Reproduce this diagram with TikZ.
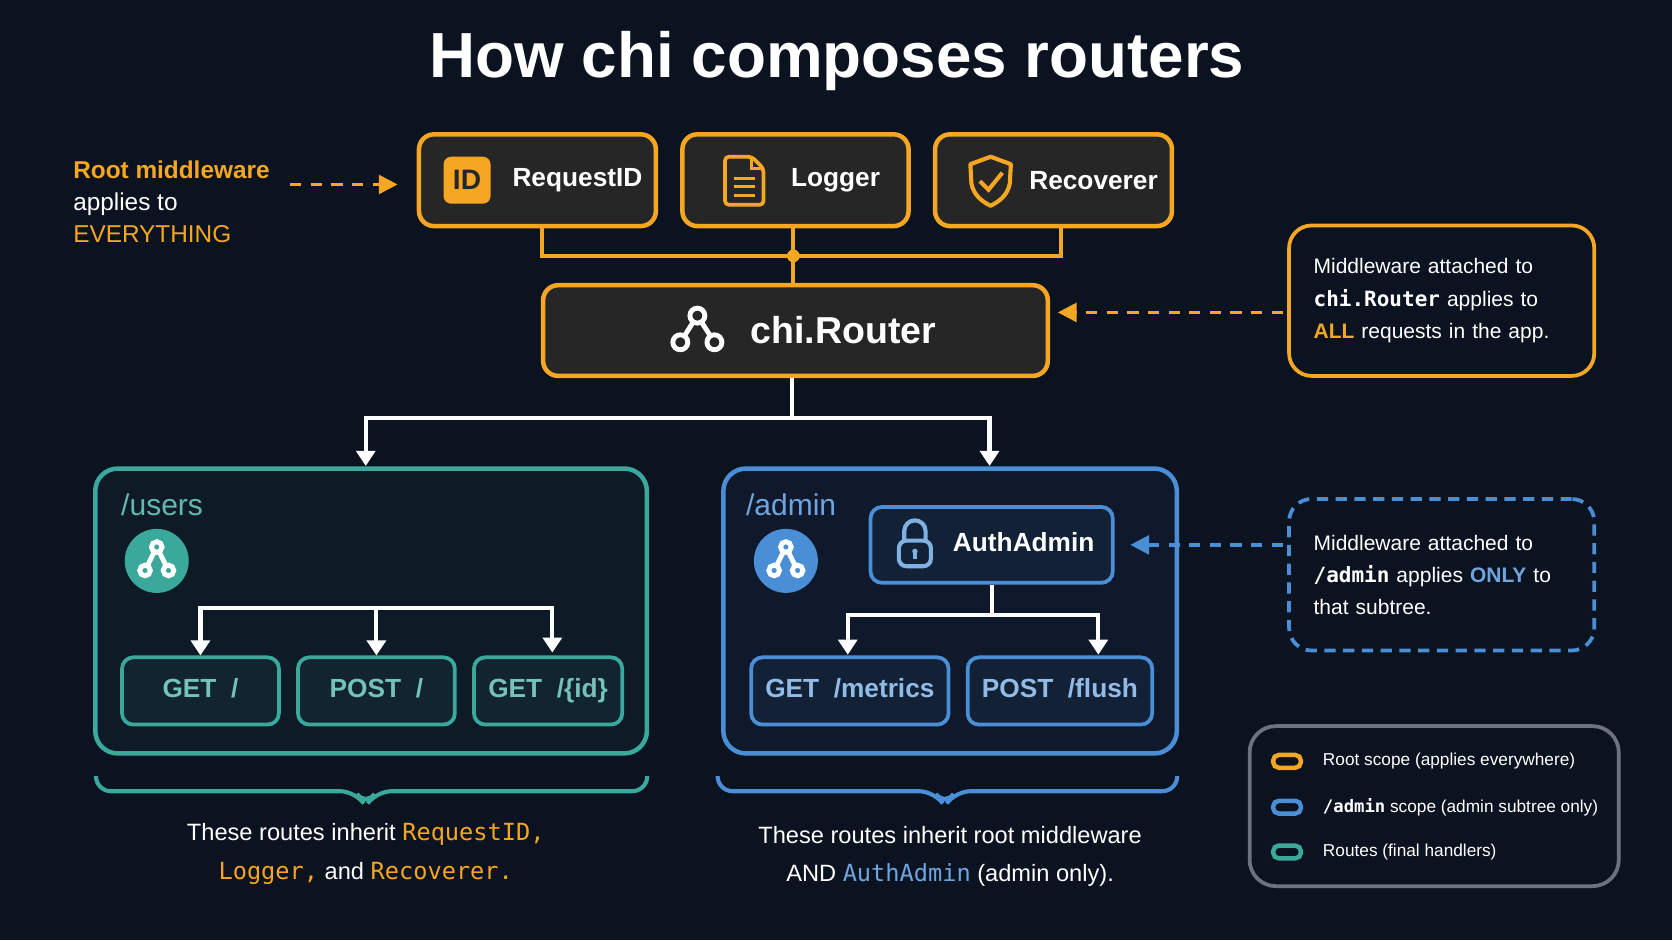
\documentclass[tikz,border=0pt]{standalone}
\usepackage{fontspec}
\setmainfont{Liberation Sans}
\setmonofont{DejaVu Sans Mono}
\usetikzlibrary{positioning,arrows.meta,calc}
\definecolor{bg}{HTML}{0B1220}
\definecolor{orng}{HTML}{F5A623}
\definecolor{teal}{HTML}{3AA89A}
\definecolor{blu}{HTML}{4A8FD6}
\definecolor{gry}{HTML}{6B7280}
\newcommand{\fs}[1]{\fontsize{#1}{#1}\selectfont}

\begin{document}
\begin{tikzpicture}[x=0.01cm, y=-0.01cm,
  mw/.style={draw=orng, line width=1.2pt, rounded corners=4pt, fill=black!85, minimum height=0.86cm, text=white, font=\fs{7}\bfseries},
  rt/.style={draw=teal, line width=1pt, rounded corners=3pt, fill=teal!12!bg, minimum height=0.63cm, text height=5pt, text depth=1.5pt, text=teal!70!white, font=\fs{7}\bfseries},
  ad/.style={draw=blu, line width=1pt, rounded corners=3pt, fill=blu!12!bg, minimum height=0.63cm, text height=5pt, text depth=1.5pt, text=blu!60!white, font=\fs{7}\bfseries},
  note/.style={line width=1pt, rounded corners=6pt, fill=bg, text width=2.4cm, align=left, text=white, font=\fs{5.6}, inner sep=0.22cm},
  wire/.style={line width=1.1pt},
  tip/.style={-{Triangle[length=4pt,width=5pt]}},
  dsh/.style={dash pattern=on 3pt off 2.5pt, line width=0.9pt, -{Triangle[length=5pt,width=5pt]}}]

\fill[bg] (0,0) rectangle (1568,882);
\useasboundingbox (0,0) rectangle (1568,882);

\node[text=white, font=\fs{17}\bfseries] (title) at (785,57) {How chi composes routers};

% root middleware
\node[mw, minimum width=2.22cm] (rid) at (504,169) {\hspace{0.75cm}RequestID};
\node[mw, minimum width=2.12cm] (log) at (746,169) {\hspace{0.75cm}Logger};
\node[mw, minimum width=2.22cm] (rec) at (988,169) {\hspace{0.75cm}Recoverer};
\node[fill=orng, rounded corners=2pt, minimum size=0.44cm, text=black!85, font=\fs{7.5}\bfseries, inner sep=0pt] (idicon) at (438,169) {ID};
\draw[orng, line width=1pt, rounded corners=1pt] (680,147) -- (705,147) -- (716,158) -- (716,192) -- (680,192) -- cycle;
\draw[orng, line width=0.8pt] (705,147) -- (705,158) -- (716,158) (688,167) -- (708,167) (688,175) -- (708,175) (688,183) -- (708,183);
\draw[orng, line width=1.1pt, line join=round] (929,147) -- (948,154) -- (947,172) .. controls (945,183) and (937,189) .. (929,193) .. controls (921,189) and (913,183) .. (911,172) -- (910,154) -- cycle;
\draw[orng, line width=1.1pt] (919,170) -- (927,178) -- (940,162);

\node[mw, minimum width=4.73cm, minimum height=0.85cm, font=\fs{10}\bfseries] (router) at (746,310) {\hspace{0.9cm}chi.Router};
\coordinate (hub) at (744,240);
\draw[orng, wire] (rid.south -| 508,0) |- (hub) -| (rec.south -| 995,0);
\draw[orng, wire] (log.south -| hub) -- (hub) -- (router.north -| hub);
\fill[orng] (hub) circle (6);
\begin{scope}[white, line width=1.3pt]
  \draw (654,296) -- (638,321) (654,296) -- (670,321);
  \fill[black!85] (654,296) circle (7) (638,321) circle (7) (670,321) circle (7);
  \draw (654,296) circle (7) (638,321) circle (7) (670,321) circle (7);
\end{scope}

\node[anchor=west, align=left, text=white, font=\fs{6.5}, inner sep=0pt] (rootlbl) at (68,189)
  {\textcolor{orng}{\bfseries Root middleware}\\[2pt] applies to\\[2pt] \textcolor{orng}{EVERYTHING}};
\coordinate (rootend) at (272,173);
\draw[orng, dsh] (rootend) -- ($(rid.west |- rootend)+(-18,0)$);

\node[note, draw=orng, minimum width=2.86cm, minimum height=1.41cm] (rnote) at (1352,282)
  {Middleware attached to\\[3pt] \texttt{\bfseries chi.Router} applies to\\[3pt] \textcolor{orng}{\bfseries ALL} requests in the app.};
\draw[orng, dsh] ($(rnote.west |- 0,293)+(-4,0)$) -- (992,293);

% branches
\coordinate (split) at (743,392);
\draw[white, wire] (router.south -| split) -- (split);
\draw[white, wire, tip] (split) -| (343,437);
\draw[white, wire, tip] (split) -| (928,437);

% /users
\node[draw=teal, line width=1.2pt, rounded corners=6pt, fill=teal!6!bg, minimum width=5.17cm, minimum height=2.67cm] (users) at (348,573) {};
\node[anchor=west, text=teal!80!white, font=\fs{8}, inner sep=0pt] (ulbl) at (113,473) {/users};
\node[circle, fill=teal, minimum size=0.6cm] (uicon) at (147,526) {};
\node[rt, minimum width=1.47cm] (get1) at (188,648) {GET\ \ /};
\node[rt, minimum width=1.47cm] (post1) at (353,648) {POST\ \ /};
\node[rt, minimum width=1.39cm] (get2) at (514,648) {GET\ \ /\{id\}};
\coordinate (ubar) at (353,570);
\draw[white, wire, tip] (ubar) -| (get1.north);
\draw[white, wire, tip] (ubar) -| (518,612);
\draw[white, wire, tip] (ubar) -- (post1.north);

% /admin
\node[draw=blu, line width=1.2pt, rounded corners=6pt, fill=blu!6!bg, minimum width=4.25cm, minimum height=2.67cm] (admin) at (891,573) {};
\node[anchor=west, text=blu!80!white, font=\fs{8}, inner sep=0pt] (albl) at (699,473) {/admin};
\node[circle, fill=blu, minimum size=0.6cm] (aicon) at (737,526) {};
\node[ad, minimum width=2.27cm, minimum height=0.71cm, text=white] (auth) at (930,511) {\hspace{0.6cm}AuthAdmin};
\node[ad, minimum width=1.85cm] (metrics) at (797,648) {GET\ \ /metrics};
\node[ad, minimum width=1.73cm] (flush) at (994,648) {POST\ \ /flush};
\coordinate (abar) at (930,577);
\draw[white, wire] (auth.south) -- (abar);
\draw[white, wire, tip] (abar) -| (795,614);
\draw[white, wire, tip] (abar) -| (1030,614);
\draw[blu!70!white, line width=1.1pt, rounded corners=2pt] (843,507) rectangle (873,531);
\draw[blu!70!white, line width=1.1pt] (848,507) -- (848,498) arc (180:360:10) -- (868,507);
\fill[blu!70!white] (858,517) circle (2.5);
\draw[blu!70!white, line width=1.1pt] (858,517) -- (858,524);
\begin{scope}[white, line width=1.3pt]
  \foreach \ic/\cc in {uicon/teal, aicon/blu} {
    \draw ($(\ic)+(0,-13)$) -- ($(\ic)+(-11,9)$) ($(\ic)+(0,-13)$) -- ($(\ic)+(11,9)$);
    \fill[\cc] ($(\ic)+(0,-13)$) circle (5) ($(\ic)+(-11,9)$) circle (5) ($(\ic)+(11,9)$) circle (5);
    \draw ($(\ic)+(0,-13)$) circle (5) ($(\ic)+(-11,9)$) circle (5) ($(\ic)+(11,9)$) circle (5);
  }
\end{scope}

\node[note, draw=blu, dash pattern=on 3pt off 2pt, minimum width=2.86cm, minimum height=1.42cm] (anote) at (1352,539)
  {Middleware attached to\\[3pt] \texttt{\bfseries /admin} applies \textcolor{blu!80!white}{\bfseries ONLY} to\\[3pt] that subtree.};
\draw[blu, dsh] ($(anote.west |- 0,511)+(-4,0)$) -- (1060,511);

% braces and captions
\draw[teal, line width=1.1pt, rounded corners=4pt] (90,728) -- (90,742) -- (333,742) -- (343,756) -- (353,742) -- (607,742) -- (607,728);
\draw[blu, line width=1.1pt, rounded corners=4pt] (673,728) -- (673,742) -- (876,742) -- (886,756) -- (896,742) -- (1104,742) -- (1104,728);
\node[align=center, text=white, font=\fs{6.3}] (ucap) at (343,801)
  {These routes inherit \texttt{\textcolor{orng}{RequestID,}}\\[4pt] \texttt{\textcolor{orng}{Logger,}} and \texttt{\textcolor{orng}{Recoverer.}}};
\node[align=center, text=white, font=\fs{6.3}] (acap) at (891,803)
  {These routes inherit root middleware\\[4pt] AND \texttt{\textcolor{blu!80!white}{AuthAdmin}} (admin only).};

% legend
\node[draw=gry, line width=1pt, rounded corners=7pt, minimum width=3.46cm, minimum height=1.5cm] (legend) at (1345,756) {};
\foreach \yy/\cc/\lbl in {714/orng/{Root scope (applies everywhere)}, 757/blu/{\texttt{\bfseries /admin} scope (admin subtree only)}, 799/teal/{Routes (final handlers)}} {
  \draw[\cc, line width=1.2pt, rounded corners=1.5pt] (1194,\yy-6) rectangle (1220,\yy+6);
  \node[anchor=west, text=white, font=\fs{4.6}, inner sep=0pt] at (1240,\yy) {\lbl};
}
\end{tikzpicture}
\end{document}
